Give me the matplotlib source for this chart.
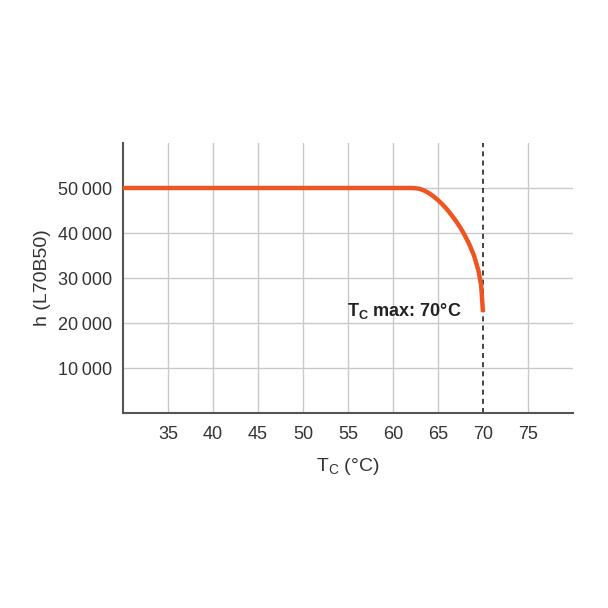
import matplotlib.pyplot as plt

plt.rcParams['font.family'] = ['Liberation Sans', 'DejaVu Sans']

# case temperature (°C) and lifetime h (L70B50)
tc = [30, 62, 62.5, 63, 63.5, 64, 64.5, 65, 65.5, 66, 66.5, 67, 67.5,
      68, 68.5, 69, 69.5, 69.8, 70]
hours = [50000, 50000, 49950, 49800, 49400, 48850, 48150, 47300, 46350,
         45250, 44000, 42650, 41150, 39400, 37400, 35000, 31600, 28300, 22400]

x_ticks = [35, 40, 45, 50, 55, 60, 65, 70, 75]
y_ticks = [10000, 20000, 30000, 40000, 50000]
y_labels = ["10\u2009000", "20\u2009000", "30\u2009000", "40\u2009000", "50\u2009000"]
tc_max = 70

fig = plt.figure(figsize=(6.08, 6.08), dpi=100)
ax = fig.add_axes([0.2023, 0.3207, 0.7401, 0.4441])

for x in x_ticks:
    if x != tc_max:
        ax.axvline(x, color="#c9c9c9", lw=1.0, zorder=1)
for y in y_ticks:
    ax.axhline(y, color="#c9c9c9", lw=1.0, zorder=1)

ax.axvline(tc_max, color="#222222", lw=1.2, ls=(0, (3, 2.5)), zorder=2)
ax.plot(tc, hours, color="#ee5522", lw=3.2, solid_capstyle="butt", zorder=3)

ax.text(67.6, 22700, r"T$_\mathregular{C}$ max: 70°C", fontsize=13,
        fontweight="bold", ha="right", va="center", color="#222222")

ax.set_xlim(30, 80)
ax.set_ylim(0, 60000)
ax.set_xticks(x_ticks)
ax.set_yticks(y_ticks)
ax.set_yticklabels(y_labels)
ax.tick_params(length=0, labelsize=13, colors="#333333")
ax.tick_params(axis="x", pad=9)
ax.tick_params(axis="y", pad=8)

for s in ["top", "right"]:
    ax.spines[s].set_visible(False)
for s in ["left", "bottom"]:
    ax.spines[s].set_color("#555555")
    ax.spines[s].set_linewidth(1.5)

ax.set_xlabel(r"T$_\mathregular{C}$ (°C)", fontsize=14, color="#333333", labelpad=10)
ax.set_ylabel("h (L70B50)", fontsize=14, color="#333333", labelpad=5)

fig.savefig("out.png", dpi=100)
